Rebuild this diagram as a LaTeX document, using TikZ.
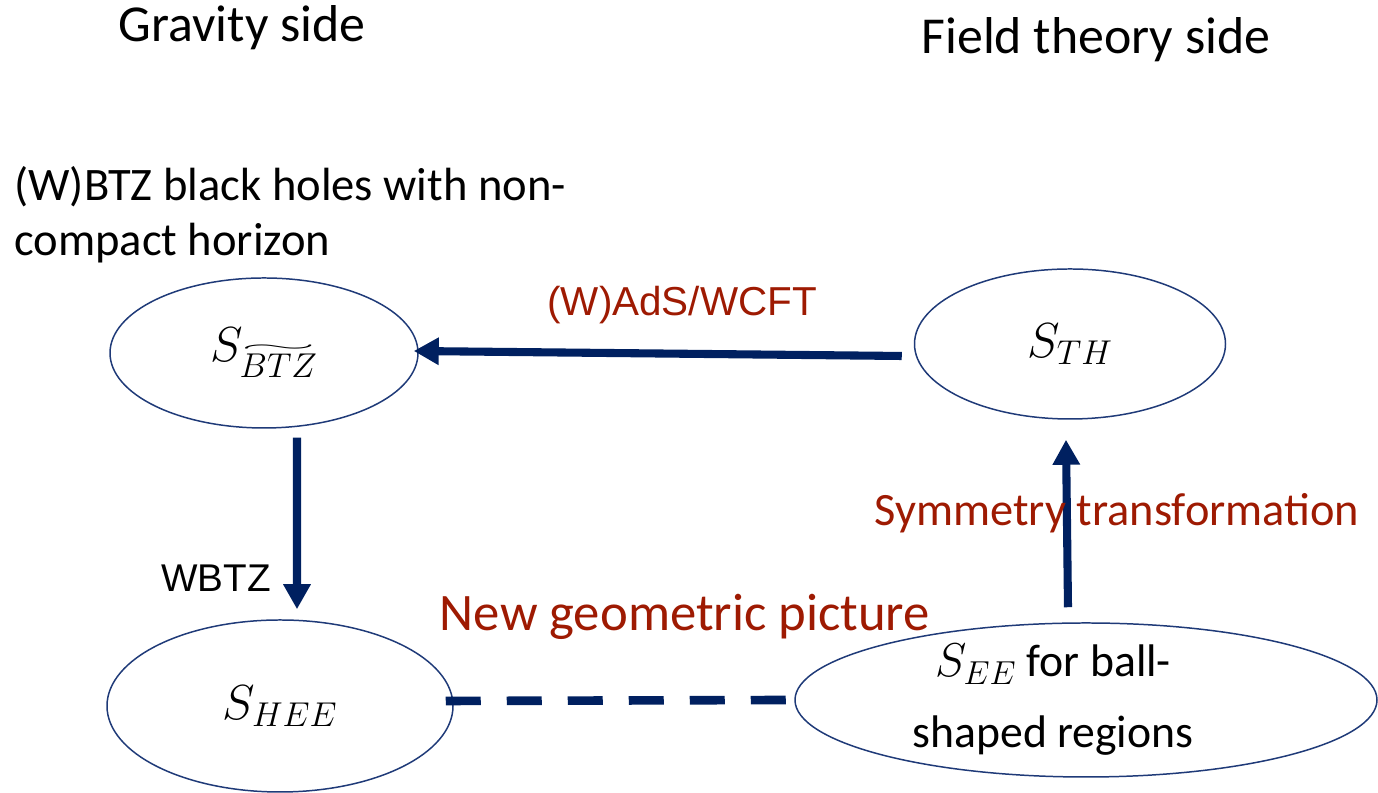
\RequirePackage{fix-cm}
\documentclass[tikz,border=0pt]{standalone}
\usepackage{fontspec}
\setmainfont{Carlito}
\newfontfamily\arialfont{Liberation Sans}
\usetikzlibrary{arrows.meta,positioning,calc,shapes.geometric}
\definecolor{DualNavy}{HTML}{002060}
\definecolor{DualEdge}{HTML}{1F3A78}
\definecolor{DualRed}{HTML}{9E1A02}
% long tilde over a whole subscript
\newcommand{\longtilde}[1]{\mathord{\setbox0\hbox{$\scriptstyle#1$}%
  \vbox{\hbox to\wd0{\resizebox{\wd0}{0.28\ht0}{$\sim$}}\nointerlineskip\kern1.8pt\box0}}}
\tikzset{
  sidetitle/.style={font=\fontsize{29.5}{34}\selectfont, inner sep=0pt},
  oval/.style={ellipse, draw=DualEdge, line width=0.85pt, inner sep=0pt,
               align=center, font=\fontsize{28}{34}\selectfont},
  redlabel/.style={font=\fontsize{26.4}{30}\selectfont, text=DualRed, inner sep=0pt},
  arrow/.style={-{Triangle[length=0.5cm,width=0.52cm]}, line width=4.6pt, DualNavy},
  dashlink/.style={line width=4.9pt, DualNavy, dash pattern=on 0.70cm off 0.52cm},
}

\begin{document}
\begin{tikzpicture}
  \useasboundingbox (0,0) rectangle (27.56,15.86);

  % column headings
  \node[sidetitle] (gravity) at (4.84,15.30) {Gravity side};
  \node[sidetitle] (field) at (21.92,15.06) {Field theory side};
  \node[font=\fontsize{26.5}{29.5}\selectfont, align=left, anchor=west, inner sep=0pt]
        (bhnote) at (0.28,11.56) {(W)BTZ black holes with non-\\[2pt]compact horizon};

  % entropies
  \node[oval, minimum width=6.16cm, minimum height=3.0cm] (sBTZ) at (5.28,8.80)
        {$S_{\longtilde{BTZ}}$};
  \node[oval, minimum width=6.22cm, minimum height=3.0cm] (sTH) at (21.40,8.98)
        {$S_{TH}$};
  \node[oval, minimum width=6.92cm, minimum height=3.44cm] (sHEE) at (5.60,1.74)
        {$S_{HEE}$};
  \node[oval, minimum width=11.64cm, minimum height=3.08cm] (sEE) at (21.72,1.86) {};
  \node[align=center, inner sep=0pt, font=\fontsize{26}{34}\selectfont] (sEEtext)
        at ($(sEE.center)+(-0.66,0.0)$)
        {{\fontsize{27}{34}\selectfont$S_{EE}$} for ball-\\[0.22cm]shaped regions};

  % connections
  \draw[arrow] ($(sTH.west)+(-0.24,-0.24)$) -- ($(sBTZ.east)+(-0.10,0.04)$)
        node[pos=0.45, yshift=0.98cm, redlabel, font=\arialfont\fontsize{23}{27}\selectfont]
        (adscft) {(W)AdS/WCFT};
  \draw[arrow] ($(sBTZ.south)+(0.66,-0.18)$) -- ($(sHEE.north)+(0.34,0.20)$)
        node[pos=0.82, xshift=-1.62cm, inner sep=0pt, text=black,
             font=\arialfont\fontsize{22}{26}\selectfont] (wbtz) {WBTZ};
  \draw[arrow] ($(sEE.north)+(-0.36,0.30)$) -- ($(sTH.south)+(-0.08,-0.40)$)
        node[pos=0.56, xshift=1.0cm, redlabel] (symm) {Symmetry transformation};
  \draw[dashlink] ($(sHEE.east)+(-0.16,0.10)$) -- ($(sEE.west)+(-0.14,0)$)
        node[pos=0.70, yshift=1.66cm, redlabel, font=\fontsize{30}{34}\selectfont]
        (newgeo) {New geometric picture};
\end{tikzpicture}
\end{document}
